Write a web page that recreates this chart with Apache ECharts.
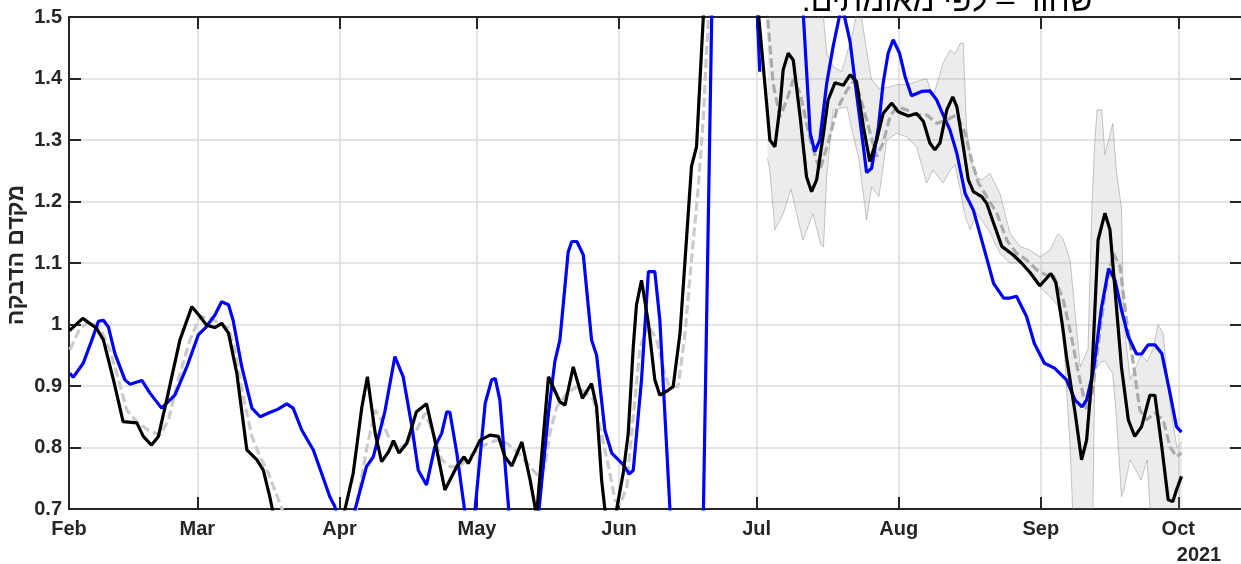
<!DOCTYPE html>
<html>
<head>
<meta charset="utf-8">
<script src="https://cdn.jsdelivr.net/npm/echarts@6/dist/echarts.min.js"></script>
<style>
  html, body { margin: 0; padding: 0; background: #fff; }
  #chart { width: 1241px; height: 564px; }
</style>
</head>
<body>
<div id="chart" dir="rtl"></div>
<script>
// Time base: days counted from 1 Feb 2021
const START = new Date(2021, 1, 1).getTime();
const DAY = 86400000;
const X_SPAN_DAYS = 255.9;
const MONTHS = ['Jan','Feb','Mar','Apr','May','Jun','Jul','Aug','Sep','Oct','Nov','Dec'];
const Y_MIN = 0.7, Y_MAX = 1.5, Y_STEP = 0.1;

// Black: by confirmed cases
const blackDays = [0.1,3.0,6.0,7.5,9.7,11.8,14.8,16.2,18.0,19.5,
  21.3,24.2,26.8,28.6,30.0,31.8,33.3,34.8,36.6,38.8,
  41.0,42.4,43.8,46.0,52.0,59.0,62.0,63.9,65.1,66.8,
  68.2,69.7,70.8,72.0,73.7,75.8,78.0,79.8,82.0,84.6,
  86.2,87.1,89.7,91.8,93.7,95.1,96.6,98.8,100.6,102.0,
  104.6,107.1,108.2,110.0,112.0,114.0,115.1,116.2,117.5,118.5,
  120.9,122.0,123.1,123.8,124.9,126.4,127.8,128.9,130.7,131.8,
  133.3,134.4,135.8,136.9,137.7,138.8,144.0,149.5,151.8,152.9,
  154.0,155.1,155.8,156.9,158.0,159.5,160.9,162.0,163.1,164.6,
  165.6,167.1,168.9,170.4,171.8,173.3,174.7,176.2,177.6,179.5,
  180.9,183.1,184.9,186.4,187.8,188.9,190.0,191.5,192.8,193.7,
  195.1,196.2,197.3,199.1,200.2,201.7,203.5,206.0,207.8,209.6,
  211.8,214.2,215.3,216.7,217.6,219.5,220.9,222.0,223.1,224.5,
  226.0,227.1,228.2,229.6,231.1,232.5,234.0,235.8,236.9,238.4,
  239.8,240.8,241.6,242.7];
const blackVals = [0.99,1.010,0.994,0.975,0.910,0.842,0.840,0.818,0.804,0.818,
  0.877,0.975,1.029,1.013,0.999,0.995,1.002,0.986,0.921,0.796,
  0.780,0.763,0.720,0.64,0.58,0.66,0.758,0.866,0.915,0.823,
  0.777,0.793,0.811,0.791,0.807,0.858,0.871,0.812,0.731,0.769,
  0.785,0.774,0.812,0.820,0.818,0.785,0.770,0.809,0.747,0.69,
  0.915,0.874,0.869,0.931,0.880,0.904,0.866,0.747,0.66,0.66,
  0.758,0.823,0.964,1.032,1.072,1.002,0.910,0.885,0.893,0.899,
  0.986,1.105,1.257,1.289,1.403,1.56,1.9,1.58,1.392,1.300,
  1.289,1.354,1.414,1.441,1.430,1.338,1.240,1.216,1.235,1.311,
  1.365,1.393,1.389,1.406,1.395,1.322,1.265,1.300,1.343,1.360,
  1.346,1.339,1.343,1.330,1.295,1.284,1.295,1.349,1.370,1.354,
  1.289,1.235,1.216,1.208,1.197,1.165,1.127,1.113,1.100,1.085,
  1.063,1.083,1.068,1.0,0.948,0.856,0.780,0.812,0.910,1.137,
  1.181,1.154,1.056,0.931,0.845,0.818,0.834,0.885,0.885,0.801,
  0.715,0.712,0.731,0.753];

// Blue
const blueDays = [0.2,0.9,3.1,5.0,6.4,7.5,8.6,10.0,12.2,13.3,
  15.9,17.7,20.2,23.1,25.7,28.2,29.7,31.8,33.3,34.8,
  35.8,37.7,39.9,41.7,43.8,45.5,47.5,48.9,50.8,53.3,
  55.1,56.9,58.0,59.0,61.0,64.9,66.4,68.9,71.1,72.9,
  74.8,76.2,78.0,79.8,81.3,82.4,83.1,84.6,86.2,87.5,
  90.8,92.2,93.0,94.0,97.0,101.5,104.6,106.0,107.1,108.9,
  109.7,110.8,112.2,114.0,115.1,116.9,118.4,120.9,122.2,123.1,
  124.9,126.4,127.8,128.9,131.1,132.5,138.0,141.0,145.0,149.0,
  150.7,151.5,159.6,161.7,162.7,163.8,165.3,166.7,168.6,170.4,
  171.8,173.3,174.0,175.1,176.6,177.6,178.7,179.8,181.2,182.4,
  183.8,186.0,187.8,189.3,190.7,192.2,193.7,195.5,197.3,199.5,
  201.7,203.9,205.3,206.7,208.9,210.6,212.8,215.0,217.6,219.5,
  221.0,222.0,223.5,225.2,226.8,228.2,229.6,231.1,232.9,234.0,
  235.4,236.9,238.4,240.2,241.6,242.7];
const blueVals = [0.921,0.914,0.937,0.975,1.005,1.007,0.996,0.953,0.910,0.903,
  0.909,0.888,0.864,0.885,0.931,0.983,0.994,1.015,1.037,1.032,
  1.007,0.931,0.864,0.850,0.857,0.862,0.871,0.864,0.828,0.796,
  0.758,0.720,0.704,0.67,0.66,0.769,0.785,0.858,0.948,0.915,
  0.834,0.763,0.739,0.801,0.823,0.858,0.857,0.791,0.704,0.615,
  0.872,0.910,0.912,0.877,0.60,0.62,0.856,0.940,0.975,1.118,
  1.135,1.135,1.113,0.975,0.950,0.828,0.791,0.772,0.757,0.763,
  0.910,1.086,1.086,1.007,0.700,0.50,0.52,1.85,2.0,1.7,
  1.411,null,1.58,1.311,1.281,1.300,1.392,1.452,1.52,1.460,
  1.376,1.289,1.247,1.254,1.322,1.392,1.441,1.463,1.441,1.403,
  1.372,1.379,1.380,1.365,1.341,1.316,1.278,1.213,1.186,1.127,
  1.067,1.043,1.043,1.046,1.013,0.969,0.937,0.929,0.910,0.877,
  0.866,0.877,0.926,1.025,1.091,1.072,1.024,0.980,0.952,0.952,
  0.967,0.967,0.953,0.888,0.834,0.825];

// Gray dashed, February to June
const grayEarlyDays = [0.2,2.4,4.6,6.8,8.9,10.8,12.6,14.8,17.3,19.9,
  21.7,23.8,26.4,28.6,30.8,32.9,34.8,36.2,38.0,39.9,
  41.7,43.5,48.0,55.0,61.5,65.0,66.8,67.8,69.7,71.5,
  73.7,75.8,77.7,79.5,81.3,83.1,85.3,87.5,89.7,93.3,
  95.5,98.0,100.6,102.4,103.8,104.9,106.4,108.6,110.8,112.9,
  114.4,115.8,117.7,119.1,120.2,121.7,122.8,124.6,126.4,128.2,
  129.6,130.9,132.9,134.4,135.8,137.3,138.4,139.1,140.0];
const grayEarlyVals = [0.959,0.994,1.005,0.994,0.959,0.910,0.861,0.842,0.828,0.820,
  0.845,0.910,0.975,1.013,1.010,1.002,0.994,0.959,0.883,0.818,
  0.785,0.758,0.67,0.60,0.65,0.801,0.861,0.850,0.818,0.796,
  0.807,0.828,0.856,0.823,0.780,0.769,0.770,0.785,0.801,0.812,
  0.807,0.791,0.769,0.753,0.769,0.823,0.866,0.888,0.899,0.888,
  0.877,0.834,0.769,0.715,0.707,0.736,0.828,0.964,0.999,0.975,
  0.931,0.900,0.899,0.986,1.105,1.224,1.338,1.446,1.56];

// Gray dashed, July onward, with its band
const grayLateDays = [151.5,153.6,155.1,156.6,158.0,159.5,161.7,163.8,165.6,167.5,
  169.7,171.5,172.6,174.4,176.2,177.6,179.1,180.6,182.7,184.9,
  187.1,189.3,191.5,193.7,195.5,196.9,198.4,200.2,202.4,204.6,
  206.7,208.9,211.1,213.3,214.6,216.9,218.7,220.2,222.0,223.1,
  224.5,226.0,227.8,229.3,230.7,232.2,233.6,235.1,236.9,238.7,
  240.2,241.6,242.7];
const grayLateVals = [1.58,1.392,1.338,1.365,1.398,1.376,1.300,1.251,1.295,1.349,
  1.381,1.398,1.370,1.322,1.273,1.295,1.338,1.354,1.349,1.341,
  1.341,1.327,1.333,1.341,1.311,1.267,1.230,1.208,1.181,1.137,
  1.116,1.105,1.089,1.080,1.083,1.040,0.980,0.921,0.861,0.883,
  0.964,1.051,1.116,1.094,1.007,0.937,0.861,0.845,0.856,0.845,
  0.801,0.785,0.791];

const bandDays = [152.4,152.9,154.0,155.8,157.5,160.1,162.3,164.0,164.6,165.3,
  166.7,168.6,169.7,171.0,172.3,174.0,175.1,176.7,178.4,180.6,
  182.7,184.9,187.1,188.5,190.7,192.2,193.3,194.4,195.1,195.8,
  196.6,198.0,199.1,200.9,203.1,205.3,207.5,209.6,211.8,214.0,
  215.8,216.8,218.4,219.5,220.6,222.3,223.2,223.8,224.3,225.3,
  226.0,227.7,228.5,229.6,230.1,231.5,233.9,235.2,236.5,237.6,
  238.7,240.2,241.7,242.8];
const bandLow = [1.27,1.25,1.154,1.18,1.22,1.137,1.18,1.13,1.126,1.24,
  1.349,1.352,1.354,1.31,1.27,1.17,1.224,1.208,1.30,1.311,
  1.305,1.289,1.23,1.251,1.23,1.25,1.26,1.22,1.19,1.17,
  1.154,1.181,1.17,1.15,1.116,1.10,1.10,1.088,1.061,1.045,
  1.03,1.00,0.80,0.60,0.60,0.60,0.60,0.93,0.93,0.94,
  0.94,0.92,0.85,0.72,0.73,0.78,0.747,0.78,0.62,0.62,
  0.63,0.65,0.67,0.68];
const bandHigh = [1.62,1.62,1.62,1.62,1.62,1.62,1.62,1.55,1.50,1.441,
  1.419,1.411,1.44,1.474,1.53,1.446,1.398,1.384,1.385,1.39,
  1.39,1.395,1.40,1.37,1.425,1.446,1.44,1.457,1.457,1.32,
  1.27,1.24,1.235,1.246,1.213,1.148,1.127,1.121,1.11,1.121,
  1.148,1.14,1.105,1.018,0.931,0.96,1.20,1.30,1.349,1.349,
  1.276,1.327,1.25,1.19,1.007,0.91,0.95,0.94,0.96,1.0,
  0.986,0.87,0.80,0.81];

const TITLE = 'שחור – לפי מאומתים.';
const Y_NAME = 'מקדם הדבקה';
const YEAR = '2021';

const toT = d => START + d * DAY;
const pairs = (days, vals) => days.map((d, i) => [toT(d), vals[i]]);

const AX = '#262626';
const FONT = '"Liberation Sans", Arial, sans-serif';

const chart = echarts.init(document.getElementById('chart'), null, { renderer: 'canvas' });

const xBase = {
  type: 'time', min: START, max: toT(X_SPAN_DAYS),
  minInterval: 28 * DAY, maxInterval: 31 * DAY,
  axisLine: { show: true, onZero: false, lineStyle: { color: AX, width: 2 } },
  axisTick: { show: true, inside: true, length: 12, lineStyle: { color: AX, width: 2 } }
};
const yBase = {
  type: 'value', min: Y_MIN, max: Y_MAX, interval: Y_STEP,
  axisLine: { show: true, onZero: false, lineStyle: { color: AX, width: 2 } },
  axisTick: { show: true, inside: true, length: 12, lineStyle: { color: AX, width: 2 } }
};

chart.setOption({
  animation: false,
  backgroundColor: '#ffffff',
  grid: { left: 69, right: -1, top: 17, bottom: 55, containLabel: false, outerBoundsMode: 'none' },
  xAxis: [
    Object.assign({}, xBase, {
      position: 'bottom',
      axisLabel: {
        formatter: v => MONTHS[new Date(v).getMonth()],
        color: AX, fontWeight: 'bold', fontSize: 20, fontFamily: FONT,
        margin: 10, showMaxLabel: false, hideOverlap: false
      },
      splitLine: { show: true, lineStyle: { color: '#dcdcdc', width: 1.5 } }
    }),
    Object.assign({}, xBase, {
      position: 'top',
      axisLabel: { show: false },
      splitLine: { show: false }
    })
  ],
  yAxis: [
    Object.assign({}, yBase, {
      position: 'left',
      axisLabel: { color: AX, fontWeight: 'bold', fontSize: 20, fontFamily: FONT, margin: 7 },
      splitLine: { show: true, lineStyle: { color: '#dcdcdc', width: 1.5 } }
    }),
    Object.assign({}, yBase, {
      position: 'right',
      axisLabel: { show: false },
      splitLine: { show: false }
    })
  ],
  graphic: [
    {
      type: 'text', x: 1093, y: 2.5, silent: true,
      style: { text: TITLE, font: '32px ' + FONT, fill: '#000', textAlign: 'right', textVerticalAlign: 'middle' }
    },
    {
      // y-axis title, rotated to read upward
      type: 'text', x: 16.5, y: 255, rotation: Math.PI / 2, silent: true,
      style: { text: Y_NAME, font: 'bold 23px ' + FONT, fill: AX, textAlign: 'center', textVerticalAlign: 'middle' }
    },
    {
      type: 'text', x: 1199, y: 555, silent: true,
      style: { text: YEAR, font: 'bold 20px ' + FONT, fill: AX, textAlign: 'center', textVerticalAlign: 'middle' }
    }
  ],
  series: [
    {
      name: 'bandLow', type: 'line', stack: 'band', symbol: 'none', z: 1,
      data: pairs(bandDays, bandLow),
      lineStyle: { color: 'rgba(140,140,140,0.7)', width: 0.7 }
    },
    {
      name: 'bandRange', type: 'line', stack: 'band', symbol: 'none', z: 1,
      data: pairs(bandDays, bandHigh.map((h, i) => h - bandLow[i])),
      lineStyle: { color: 'rgba(140,140,140,0.7)', width: 0.7 },
      areaStyle: { color: 'rgba(150,150,150,0.25)', origin: 'auto' }
    },
    {
      name: 'grayEarly', type: 'line', symbol: 'none', z: 2,
      data: pairs(grayEarlyDays, grayEarlyVals),
      lineStyle: { color: '#cbcbcb', width: 3.2, type: [9, 4] }
    },
    {
      name: 'grayLate', type: 'line', symbol: 'none', z: 2,
      data: pairs(grayLateDays, grayLateVals),
      lineStyle: { color: '#ababab', width: 3.2, type: [9, 4] }
    },
    {
      name: 'blue', type: 'line', symbol: 'none', z: 3, connectNulls: false,
      data: pairs(blueDays, blueVals),
      lineStyle: { color: '#0000ff', width: 3.2 }
    },
    {
      name: 'black', type: 'line', symbol: 'none', z: 4,
      data: pairs(blackDays, blackVals),
      lineStyle: { color: '#000000', width: 3.2 }
    }
  ]
});
</script>
</body>
</html>
